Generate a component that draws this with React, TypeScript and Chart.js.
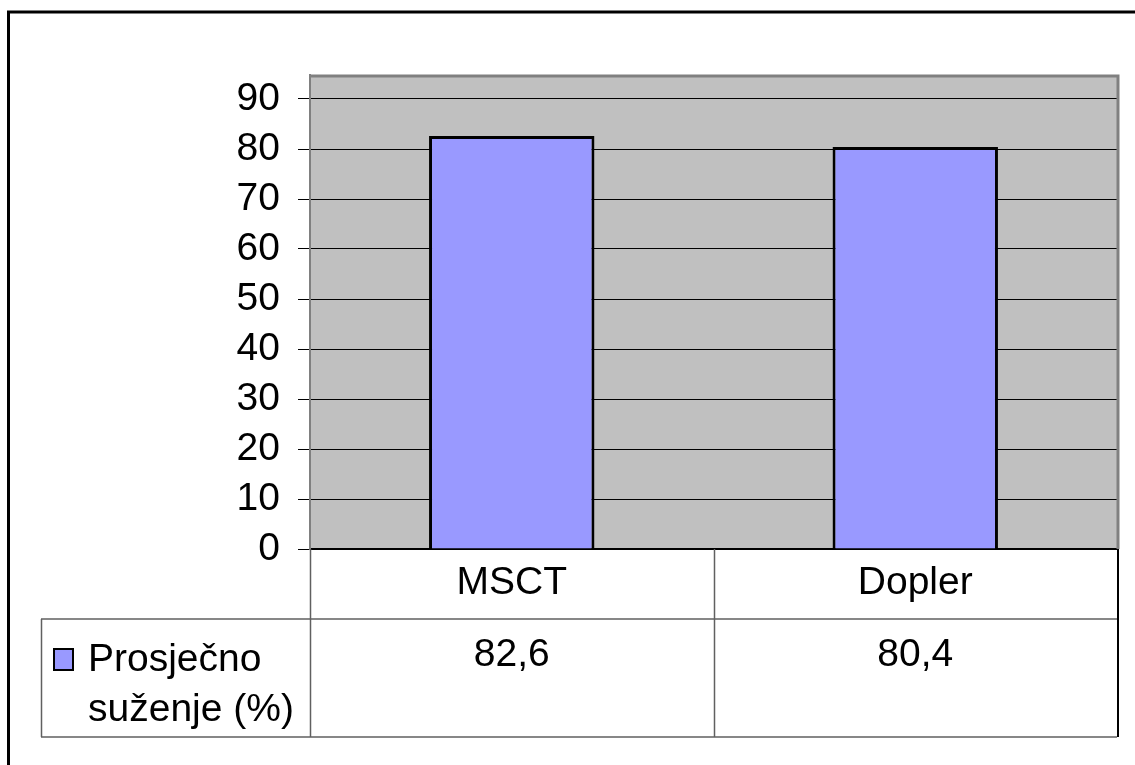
import React, { useEffect, useRef } from "react";
import { Chart, registerables } from "chart.js";

Chart.register(...registerables);

const categories = ["MSCT", "Dopler"];
const seriesName = ["Prosječno", "suženje (%)"];
const values = [82.6, 80.4];
const yTicks = [0, 10, 20, 30, 40, 50, 60, 70, 80, 90];
const yMax = 94.8;

const FONT = "'Liberation Sans', Arial, sans-serif";
const FONT_SIZE = 39;
const BAR_COLOR = "#9999FF";

const W = 1135;
const H = 765;

const fmt = (v: number) => v.toString().replace(".", ",");

const decorPlugin = {
  id: "decor",
  beforeDraw(chart: any) {
    const { ctx, chartArea } = chart;
    ctx.save();
    ctx.fillStyle = "#ffffff";
    ctx.fillRect(0, 0, chart.width, chart.height);
    ctx.fillStyle = "#C0C0C0";
    ctx.fillRect(chartArea.left, chartArea.top, chartArea.right - chartArea.left, chartArea.bottom - chartArea.top);
    ctx.restore();
  },
  afterDraw(chart: any) {
    const { ctx, chartArea } = chart;
    const x = chart.scales.x;
    const L = chartArea.left;
    const R = chartArea.right;
    const B = chartArea.bottom;
    const row1 = 619;
    const row2 = 737;
    const legendLeft = 41;
    ctx.save();

    // plot area top / right border
    ctx.strokeStyle = "#808080";
    ctx.lineWidth = 3;
    ctx.beginPath();
    ctx.moveTo(L, chartArea.top + 1);
    ctx.lineTo(R + 1, chartArea.top + 1);
    ctx.lineTo(R + 1, B);
    ctx.stroke();

    // data table lines
    ctx.strokeStyle = "#606060";
    ctx.lineWidth = 1.5;
    ctx.beginPath();
    ctx.moveTo(legendLeft, row1);
    ctx.lineTo(R, row1);
    ctx.moveTo(legendLeft, row2);
    ctx.lineTo(R, row2);
    ctx.moveTo(legendLeft + 0.5, row1);
    ctx.lineTo(legendLeft + 0.5, row2);
    ctx.moveTo(L + 0.5, B);
    ctx.lineTo(L + 0.5, row2);
    const mid = (x.getPixelForValue(0) + x.getPixelForValue(1)) / 2;
    ctx.moveTo(Math.round(mid) + 0.5, B);
    ctx.lineTo(Math.round(mid) + 0.5, row2);
    ctx.stroke();
    ctx.strokeStyle = "#000";
    ctx.lineWidth = 2;
    ctx.beginPath();
    ctx.moveTo(R + 1, B);
    ctx.lineTo(R + 1, row2);
    ctx.stroke();

    // values in table
    ctx.fillStyle = "#000";
    ctx.font = `${FONT_SIZE}px ${FONT}`;
    ctx.textAlign = "center";
    ctx.textBaseline = "alphabetic";
    values.forEach((v, i) => {
      ctx.fillText(fmt(v), x.getPixelForValue(i), 666);
    });

    // legend key
    ctx.fillStyle = BAR_COLOR;
    ctx.fillRect(54, 649, 19, 21);
    ctx.strokeStyle = "#000";
    ctx.lineWidth = 2;
    ctx.strokeRect(54, 649, 19, 21);
    ctx.fillStyle = "#000";
    ctx.textAlign = "left";
    ctx.fillText(seriesName[0], 88, 671);
    ctx.fillText(seriesName[1], 88, 721);

    // outer frame
    ctx.strokeStyle = "#000";
    ctx.lineWidth = 3;
    ctx.beginPath();
    ctx.moveTo(8.5, H + 5);
    ctx.lineTo(8.5, 12);
    ctx.lineTo(W + 5, 12);
    ctx.stroke();
    ctx.restore();
  },
};

export default function App() {
  const ref = useRef<HTMLCanvasElement | null>(null);

  useEffect(() => {
    document.body.style.margin = "0";
    const canvas = ref.current;
    if (!canvas) return;
    const chart = new Chart(canvas, {
      type: "bar",
      data: {
        labels: categories,
        datasets: [
          {
            label: seriesName.join(" "),
            data: values,
            backgroundColor: BAR_COLOR,
            borderColor: "#000",
            borderWidth: 3,
            barPercentage: 0.41,
            categoryPercentage: 1,
          },
        ],
      },
      options: {
        responsive: false,
        animation: false,
        devicePixelRatio: 1,
        layout: { padding: { left: 0, top: 75, right: 18, bottom: 0 } },
        plugins: { legend: { display: false }, tooltip: { enabled: false } },
        scales: {
          x: {
            grid: { display: false },
            border: { display: true, color: "#000", width: 2 },
            ticks: { color: "#000", font: { family: FONT, size: FONT_SIZE }, padding: 3 },
            afterFit(scale: any) {
              scale.height = H - 549;
            },
          },
          y: {
            min: 0,
            max: yMax,
            grid: { color: "#000", lineWidth: 1, tickLength: 12, drawTicks: true },
            border: { display: true, color: "#808080", width: 2 },
            ticks: { color: "#000", font: { family: FONT, size: FONT_SIZE }, padding: 18 },
            afterBuildTicks(scale: any) {
              scale.ticks = yTicks.map((v) => ({ value: v }));
            },
            afterFit(scale: any) {
              scale.width = 310;
            },
          },
        },
      },
      plugins: [decorPlugin],
    });
    return () => chart.destroy();
  }, []);

  return <canvas ref={ref} width={W} height={H} style={{ display: "block", width: W, height: H }} />;
}
